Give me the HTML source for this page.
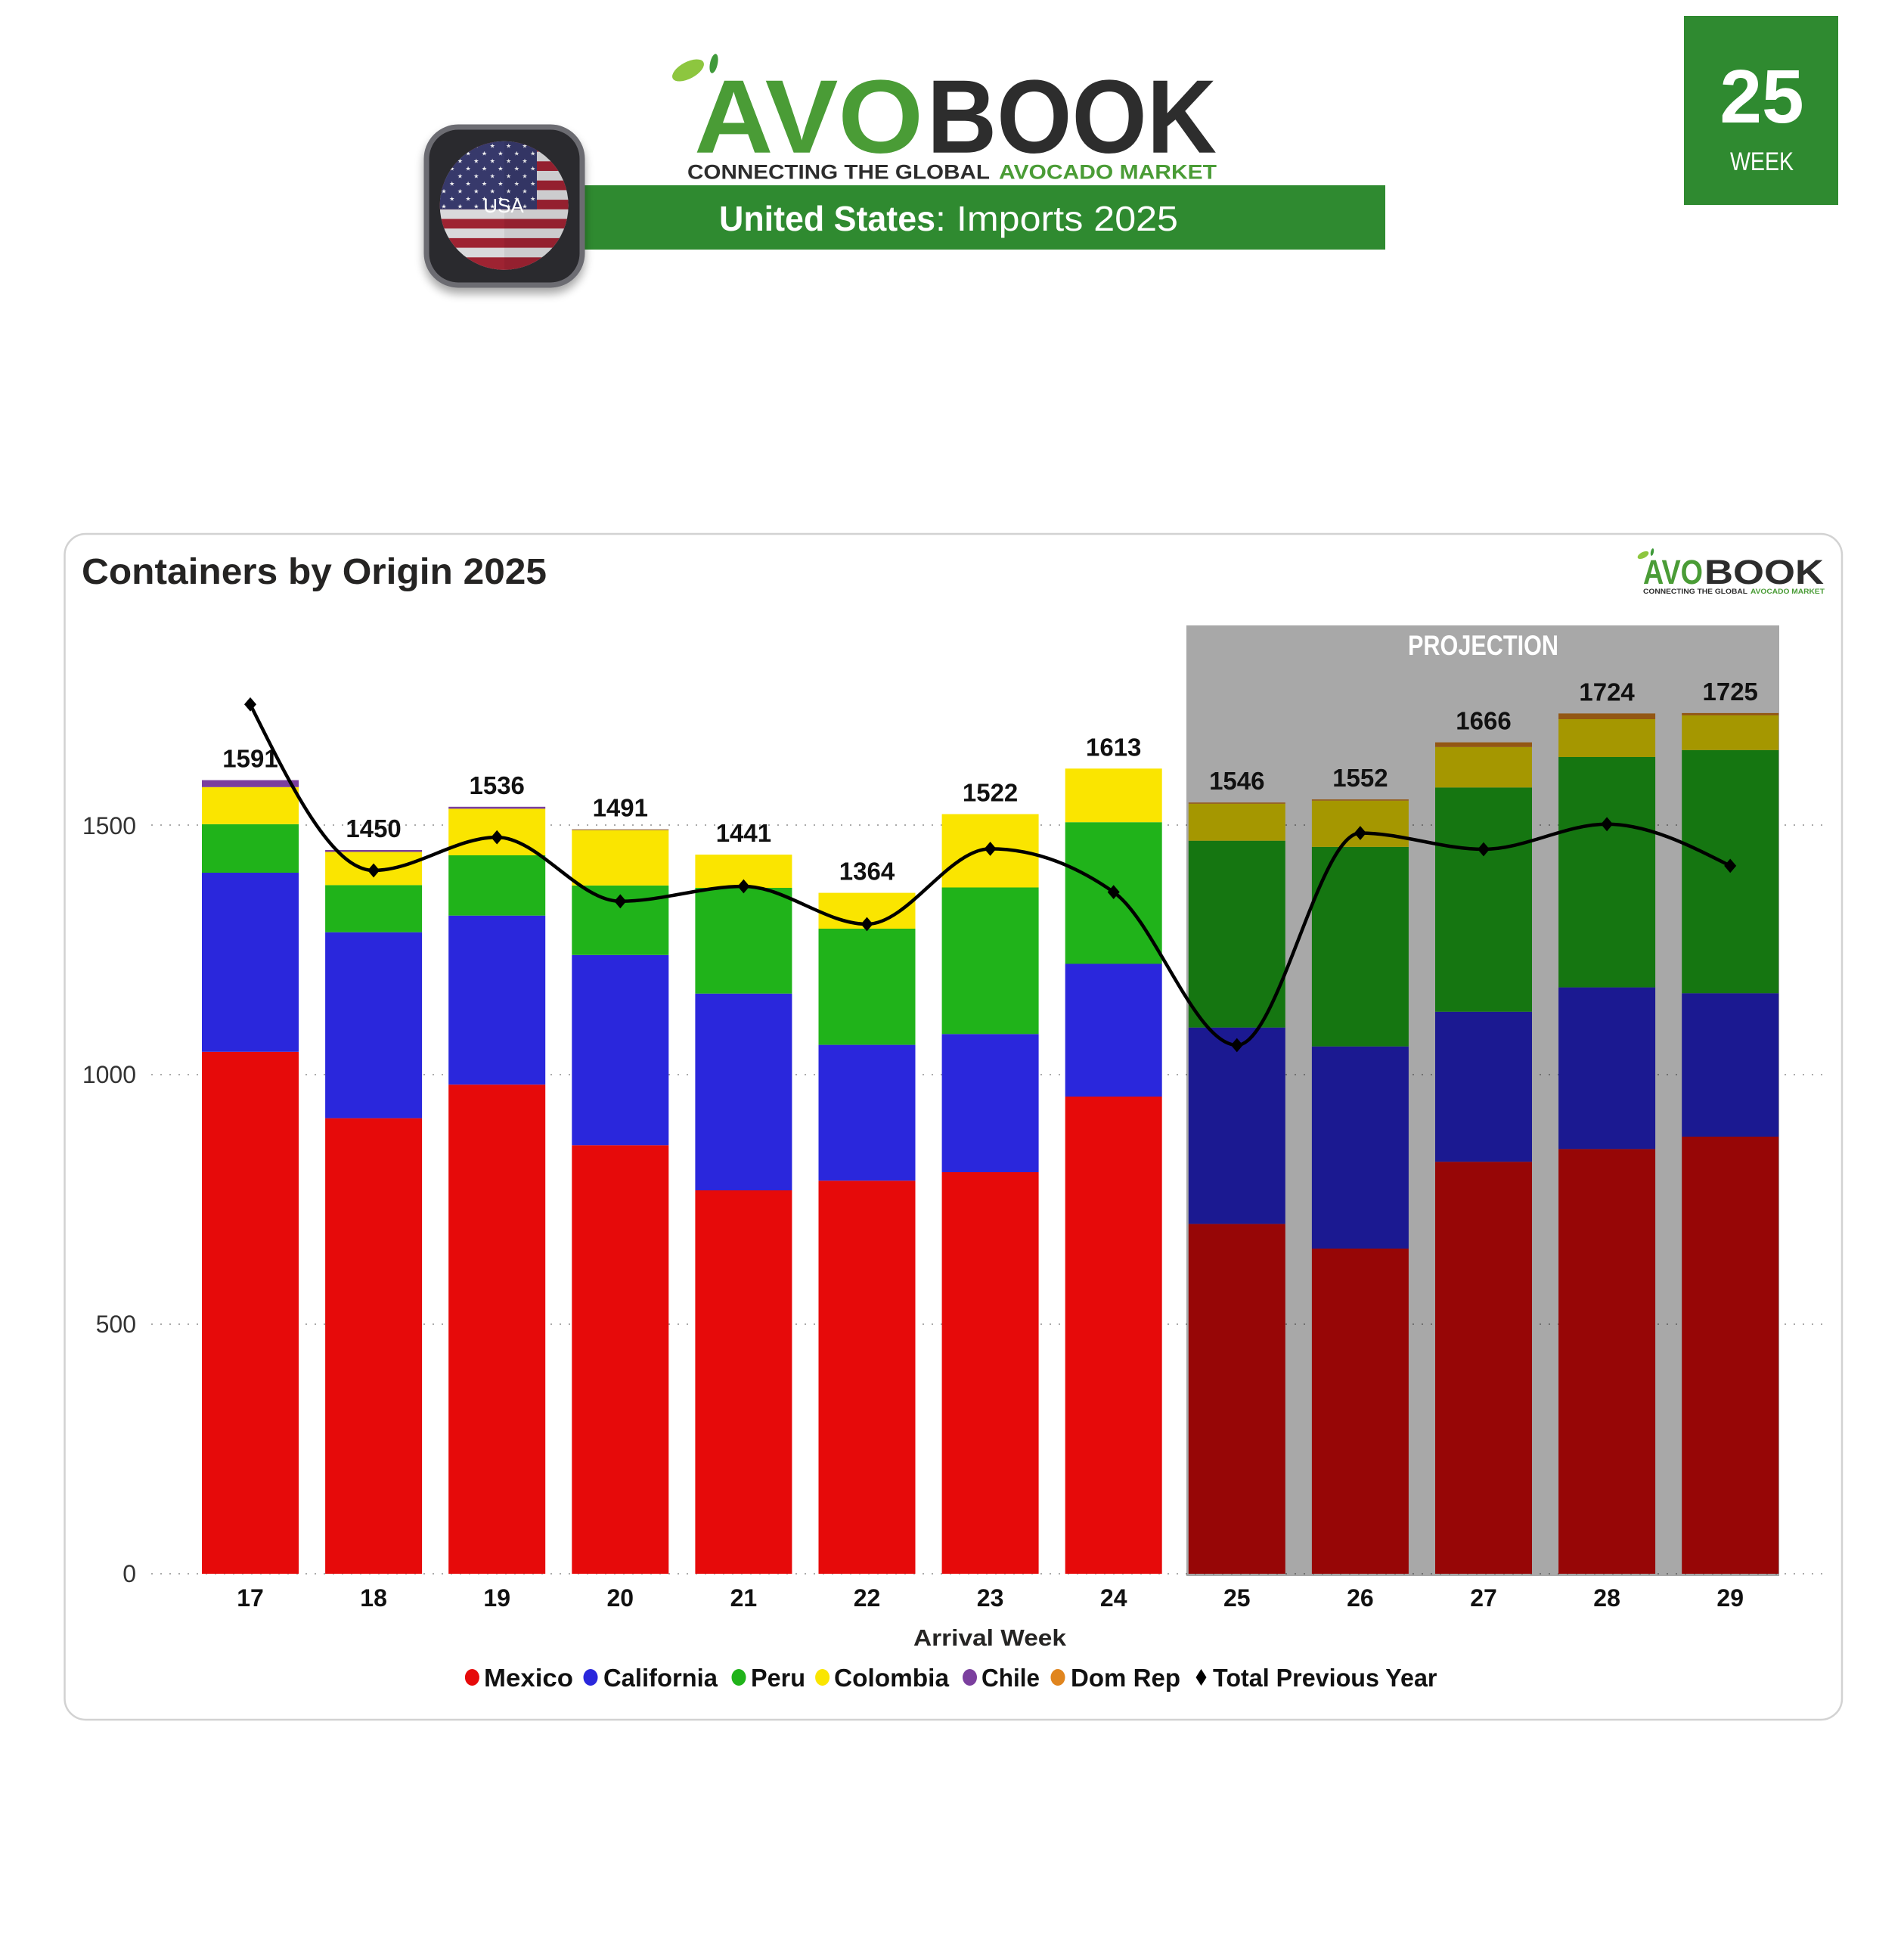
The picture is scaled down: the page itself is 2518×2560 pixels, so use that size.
<!DOCTYPE html>
<html><head><meta charset="utf-8"><style>
html,body{margin:0;padding:0;background:#fff;}
svg{display:block;}
text{font-family:"Liberation Sans",Arial,sans-serif;}
</style></head><body>
<svg width="2518" height="2560" viewBox="0 0 2518 2560" xmlns="http://www.w3.org/2000/svg">
<defs>
<clipPath id="flagclip"><circle cx="666.7" cy="271.7" r="85"/></clipPath>
<pattern id="stars" x="582" y="188" width="21.4" height="20" patternUnits="userSpaceOnUse">
<g fill="#f2f2f2">
<polygon transform="translate(5,5)" points="0,-3.3 0.76,-1.05 3.14,-1.02 1.24,0.4 1.94,2.67 0,1.3 -1.94,2.67 -1.24,0.4 -3.14,-1.02 -0.76,-1.05"/>
<polygon transform="translate(15.7,15)" points="0,-3.3 0.76,-1.05 3.14,-1.02 1.24,0.4 1.94,2.67 0,1.3 -1.94,2.67 -1.24,0.4 -3.14,-1.02 -0.76,-1.05"/>
</g>
</pattern>
<filter id="shadow" x="-30%" y="-30%" width="160%" height="170%">
<feGaussianBlur in="SourceAlpha" stdDeviation="6"/>
<feOffset dx="0" dy="8" result="b"/>
<feComponentTransfer><feFuncA type="linear" slope="0.35"/></feComponentTransfer>
<feMerge><feMergeNode/><feMergeNode in="SourceGraphic"/></feMerge>
</filter>
</defs>

<!-- ===== HEADER ===== -->
<rect x="2227" y="21" width="204" height="250" fill="#2F8A30"/>
<text x="2330" y="162" font-size="100" font-weight="bold" fill="#fff" text-anchor="middle">25</text>
<text x="2288" y="225" font-size="34" fill="#fff" textLength="84" lengthAdjust="spacingAndGlyphs">WEEK</text>

<rect x="740" y="245" width="1092" height="85" fill="#2F8A30"/>
<rect x="740" y="248" width="30" height="84" fill="#0b200b"/>
<text x="951" y="305" font-size="46" font-weight="bold" fill="#fff" textLength="286" lengthAdjust="spacingAndGlyphs">United States</text>
<text x="1237" y="305" font-size="46" fill="#fff" textLength="321" lengthAdjust="spacingAndGlyphs">: Imports 2025</text>

<g filter="url(#shadow)">
<rect x="564" y="168" width="206" height="209" rx="42" ry="42" fill="#2a2a2e" stroke="#6c6c72" stroke-width="7"/>
</g>
<g clip-path="url(#flagclip)">
<rect x="580" y="185" width="175" height="175" fill="#d9d9db"/>
<g fill="#9e2332">
<rect x="580" y="187.9" width="175" height="12.7"/>
<rect x="580" y="213.3" width="175" height="12.7"/>
<rect x="580" y="238.7" width="175" height="12.7"/>
<rect x="580" y="264.1" width="175" height="12.7"/>
<rect x="580" y="289.5" width="175" height="12.7"/>
<rect x="580" y="314.9" width="175" height="12.7"/>
<rect x="580" y="340.3" width="175" height="20"/>
</g>
<rect x="580" y="185" width="130" height="91.8" fill="#37396b"/>
<rect x="580" y="185" width="130" height="91.8" fill="url(#stars)"/>
<rect x="667" y="185" width="90" height="175" fill="#000" opacity="0.06"/>
</g>
<text x="666" y="281" font-size="26" fill="#fff" text-anchor="middle">USA</text>

<ellipse cx="910" cy="93" rx="23" ry="11" transform="rotate(-28 910 93)" fill="#8DC63F"/>
<ellipse cx="944" cy="84" rx="5" ry="13" transform="rotate(12 944 84)" fill="#3f9a3a"/>
<text x="918" y="201.7" font-size="138" font-weight="bold" fill="#4A9C36" textLength="303" lengthAdjust="spacingAndGlyphs">AVO</text>
<text x="1226" y="201.7" font-size="138" font-weight="bold" fill="#2D2D2D" textLength="383" lengthAdjust="spacingAndGlyphs">BOOK</text>
<text x="909" y="236.7" font-size="27" font-weight="bold" fill="#2D2D2D" textLength="400" lengthAdjust="spacingAndGlyphs">CONNECTING THE GLOBAL</text>
<text x="1321" y="236.7" font-size="27" font-weight="bold" fill="#4A9C36" textLength="288" lengthAdjust="spacingAndGlyphs">AVOCADO MARKET</text>

<!-- ===== CARD ===== -->
<rect x="85.5" y="706" width="2350.5" height="1568" rx="28" ry="28" fill="#fff" stroke="#d2d2d2" stroke-width="2.5"/>
<text x="108" y="772" font-size="48" font-weight="bold" fill="#252423" textLength="615" lengthAdjust="spacingAndGlyphs">Containers by Origin 2025</text>

<ellipse cx="2173" cy="734" rx="8" ry="4" transform="rotate(-28 2173 734)" fill="#8DC63F"/>
<ellipse cx="2185" cy="730" rx="2" ry="5" transform="rotate(12 2185 730)" fill="#3f9a3a"/>
<text x="2173" y="772" font-size="45" font-weight="bold" fill="#4A9C36" textLength="79" lengthAdjust="spacingAndGlyphs">AVO</text>
<text x="2254" y="772" font-size="45" font-weight="bold" fill="#2D2D2D" textLength="158" lengthAdjust="spacingAndGlyphs">BOOK</text>
<text x="2173" y="785" font-size="9.5" font-weight="bold" fill="#2D2D2D" textLength="138" lengthAdjust="spacingAndGlyphs">CONNECTING THE GLOBAL</text>
<text x="2315" y="785" font-size="9.5" font-weight="bold" fill="#4A9C36" textLength="98" lengthAdjust="spacingAndGlyphs">AVOCADO MARKET</text>

<g stroke="#aaaaaa" stroke-width="2" stroke-dasharray="2 10">
<line x1="200" y1="2081" x2="2418" y2="2081"/>
<line x1="200" y1="1751" x2="2418" y2="1751"/>
<line x1="200" y1="1421" x2="2418" y2="1421"/>
<line x1="200" y1="1091" x2="2418" y2="1091"/>
</g>
<g font-size="32" fill="#333" text-anchor="end">
<text x="180" y="2092">0</text>
<text x="180" y="1762">500</text>
<text x="180" y="1432">1000</text>
<text x="180" y="1103">1500</text>
</g>

<!-- 17 -->
<rect x="267" y="1390.8" width="128" height="690.2" fill="#E60A0A"/>
<rect x="267" y="1154" width="128" height="236.8" fill="#2A27DC"/>
<rect x="267" y="1089.8" width="128" height="64.2" fill="#20B31A"/>
<rect x="267" y="1040.8" width="128" height="49" fill="#FAE500"/>
<rect x="267" y="1031.6" width="128" height="9.2" fill="#7B3F9E"/>
<!-- 18 -->
<rect x="430.1" y="1478.6" width="128" height="602.4" fill="#E60A0A"/>
<rect x="430.1" y="1232.7" width="128" height="245.9" fill="#2A27DC"/>
<rect x="430.1" y="1170.4" width="128" height="62.3" fill="#20B31A"/>
<rect x="430.1" y="1126.5" width="128" height="43.9" fill="#FAE500"/>
<rect x="430.1" y="1124" width="128" height="2.5" fill="#7B3F9E"/>
<!-- 19 -->
<rect x="593.2" y="1434.2" width="128" height="646.8" fill="#E60A0A"/>
<rect x="593.2" y="1210.7" width="128" height="223.5" fill="#2A27DC"/>
<rect x="593.2" y="1131" width="128" height="79.7" fill="#20B31A"/>
<rect x="593.2" y="1069.4" width="128" height="61.6" fill="#FAE500"/>
<rect x="593.2" y="1066.8" width="128" height="2.6" fill="#7B3F9E"/>
<!-- 20 -->
<rect x="756.3" y="1514.3" width="128" height="566.7" fill="#E60A0A"/>
<rect x="756.3" y="1262.8" width="128" height="251.5" fill="#2A27DC"/>
<rect x="756.3" y="1170.9" width="128" height="91.9" fill="#20B31A"/>
<rect x="756.3" y="1097.5" width="128" height="73.4" fill="#FAE500"/>
<rect x="756.3" y="1096.4" width="128" height="1.5" fill="#b08a6a"/>
<!-- 21 -->
<rect x="919.4" y="1574" width="128" height="507" fill="#E60A0A"/>
<rect x="919.4" y="1313.8" width="128" height="260.2" fill="#2A27DC"/>
<rect x="919.4" y="1174" width="128" height="139.8" fill="#20B31A"/>
<rect x="919.4" y="1130.1" width="128" height="43.9" fill="#FAE500"/>
<!-- 22 -->
<rect x="1082.5" y="1561.2" width="128" height="519.8" fill="#E60A0A"/>
<rect x="1082.5" y="1381.6" width="128" height="179.6" fill="#2A27DC"/>
<rect x="1082.5" y="1228" width="128" height="153.6" fill="#20B31A"/>
<rect x="1082.5" y="1180.6" width="128" height="47.4" fill="#FAE500"/>
<!-- 23 -->
<rect x="1245.6" y="1550" width="128" height="531" fill="#E60A0A"/>
<rect x="1245.6" y="1367.3" width="128" height="182.7" fill="#2A27DC"/>
<rect x="1245.6" y="1173.5" width="128" height="193.8" fill="#20B31A"/>
<rect x="1245.6" y="1076.5" width="128" height="97" fill="#FAE500"/>
<!-- 24 -->
<rect x="1408.7" y="1450" width="128" height="631" fill="#E60A0A"/>
<rect x="1408.7" y="1274.5" width="128" height="175.5" fill="#2A27DC"/>
<rect x="1408.7" y="1087.2" width="128" height="187.3" fill="#20B31A"/>
<rect x="1408.7" y="1016.3" width="128" height="70.9" fill="#FAE500"/>
<!-- 25 -->
<rect x="1571.8" y="1618.4" width="128" height="462.6" fill="#E60A0A"/>
<rect x="1571.8" y="1358.7" width="128" height="259.7" fill="#2A27DC"/>
<rect x="1571.8" y="1111.7" width="128" height="247" fill="#20B31A"/>
<rect x="1571.8" y="1062.8" width="128" height="48.9" fill="#FAE500"/>
<rect x="1571.8" y="1061.2" width="128" height="1.6" fill="#E0851E"/>
<!-- 26 -->
<rect x="1734.9" y="1651" width="128" height="430" fill="#E60A0A"/>
<rect x="1734.9" y="1383.7" width="128" height="267.3" fill="#2A27DC"/>
<rect x="1734.9" y="1119.9" width="128" height="263.8" fill="#20B31A"/>
<rect x="1734.9" y="1058.7" width="128" height="61.2" fill="#FAE500"/>
<rect x="1734.9" y="1057.1" width="128" height="1.6" fill="#E0851E"/>
<!-- 27 -->
<rect x="1898" y="1536.2" width="128" height="544.8" fill="#E60A0A"/>
<rect x="1898" y="1337.8" width="128" height="198.4" fill="#2A27DC"/>
<rect x="1898" y="1041.3" width="128" height="296.5" fill="#20B31A"/>
<rect x="1898" y="987.8" width="128" height="53.5" fill="#FAE500"/>
<rect x="1898" y="981.6" width="128" height="6.2" fill="#E0851E"/>
<!-- 28 -->
<rect x="2061.1" y="1519.4" width="128" height="561.6" fill="#E60A0A"/>
<rect x="2061.1" y="1305.6" width="128" height="213.8" fill="#2A27DC"/>
<rect x="2061.1" y="1001" width="128" height="304.6" fill="#20B31A"/>
<rect x="2061.1" y="951" width="128" height="50" fill="#FAE500"/>
<rect x="2061.1" y="943.4" width="128" height="7.6" fill="#E0851E"/>
<!-- 29 -->
<rect x="2224.2" y="1503" width="128" height="578" fill="#E60A0A"/>
<rect x="2224.2" y="1313.3" width="128" height="189.7" fill="#2A27DC"/>
<rect x="2224.2" y="991.8" width="128" height="321.5" fill="#20B31A"/>
<rect x="2224.2" y="945.9" width="128" height="45.9" fill="#FAE500"/>
<rect x="2224.2" y="942.9" width="128" height="3" fill="#E0851E"/>

<rect x="1569" y="827" width="784" height="1257" fill="#000" opacity="0.34"/>
<text x="1862" y="866" font-size="37" font-weight="bold" fill="#fff" textLength="199" lengthAdjust="spacingAndGlyphs">PROJECTION</text>

<g font-size="33" font-weight="bold" fill="#111" text-anchor="middle">
<text x="331" y="1014.6">1591</text>
<text x="494.1" y="1107">1450</text>
<text x="657.2" y="1050">1536</text>
<text x="820.3" y="1079.4">1491</text>
<text x="983.4" y="1113">1441</text>
<text x="1146.5" y="1163.6">1364</text>
<text x="1309.6" y="1059.5">1522</text>
<text x="1472.7" y="999.3">1613</text>
<text x="1635.8" y="1044">1546</text>
<text x="1798.9" y="1040">1552</text>
<text x="1962" y="964.6">1666</text>
<text x="2125.1" y="926.4">1724</text>
<text x="2288.2" y="926">1725</text>
</g>

<path d="M331,931.4 C385.37,1041.2 439.73,1151 494.1,1151 C548.47,1151 602.83,1107.1 657.2,1107.1 C711.57,1107.1 765.93,1191.8 820.3,1191.8 C874.67,1191.8 929.03,1172 983.4,1172 C1037.77,1172 1092.13,1222 1146.5,1222 C1200.87,1222 1255.23,1122.4 1309.6,1122.4 C1363.97,1122.4 1418.33,1141.47 1472.7,1179.6 C1527.07,1217.73 1581.43,1382 1635.8,1382 C1690.17,1382 1744.53,1101.5 1798.9,1101.5 C1853.27,1101.5 1907.63,1123 1962,1123 C2016.37,1123 2070.73,1089.8 2125.1,1089.8 C2179.47,1089.8 2233.83,1117.35 2288.2,1144.9" fill="none" stroke="#000" stroke-width="4.5"/>
<g fill="#000">
<polygon points="331,922 339,931.4 331,940.8 323,931.4"/>
<polygon points="494.1,1141.6 502.1,1151 494.1,1160.4 486.1,1151"/>
<polygon points="657.2,1097.7 665.2,1107.1 657.2,1116.5 649.2,1107.1"/>
<polygon points="820.3,1182.4 828.3,1191.8 820.3,1201.2 812.3,1191.8"/>
<polygon points="983.4,1162.6 991.4,1172 983.4,1181.4 975.4,1172"/>
<polygon points="1146.5,1212.6 1154.5,1222 1146.5,1231.4 1138.5,1222"/>
<polygon points="1309.6,1113 1317.6,1122.4 1309.6,1131.8 1301.6,1122.4"/>
<polygon points="1472.7,1170.2 1480.7,1179.6 1472.7,1189 1464.7,1179.6"/>
<polygon points="1635.8,1372.6 1643.8,1382 1635.8,1391.4 1627.8,1382"/>
<polygon points="1798.9,1092.1 1806.9,1101.5 1798.9,1110.9 1790.9,1101.5"/>
<polygon points="1962,1113.6 1970,1123 1962,1132.4 1954,1123"/>
<polygon points="2125.1,1080.4 2133.1,1089.8 2125.1,1099.2 2117.1,1089.8"/>
<polygon points="2288.2,1135.5 2296.2,1144.9 2288.2,1154.3 2280.2,1144.9"/>
</g>

<g font-size="32" font-weight="bold" fill="#111" text-anchor="middle">
<text x="331" y="2124">17</text>
<text x="494.1" y="2124">18</text>
<text x="657.2" y="2124">19</text>
<text x="820.3" y="2124">20</text>
<text x="983.4" y="2124">21</text>
<text x="1146.5" y="2124">22</text>
<text x="1309.6" y="2124">23</text>
<text x="1472.7" y="2124">24</text>
<text x="1635.8" y="2124">25</text>
<text x="1798.9" y="2124">26</text>
<text x="1962" y="2124">27</text>
<text x="2125.1" y="2124">28</text>
<text x="2288.2" y="2124">29</text>
</g>
<text x="1208" y="2176" font-size="31" font-weight="bold" fill="#252423" textLength="202" lengthAdjust="spacingAndGlyphs">Arrival Week</text>

<g font-size="33" font-weight="bold" fill="#111">
<ellipse cx="624.4" cy="2218" rx="9.5" ry="11" fill="#E60A0A"/>
<text x="640" y="2230" textLength="118" lengthAdjust="spacingAndGlyphs">Mexico</text>
<ellipse cx="781" cy="2218" rx="9.5" ry="11" fill="#2A27DC"/>
<text x="798" y="2230" textLength="151" lengthAdjust="spacingAndGlyphs">California</text>
<ellipse cx="977" cy="2218" rx="9.5" ry="11" fill="#20B31A"/>
<text x="993" y="2230" textLength="72" lengthAdjust="spacingAndGlyphs">Peru</text>
<ellipse cx="1087.6" cy="2218" rx="9.5" ry="11" fill="#FAE500"/>
<text x="1103" y="2230" textLength="152" lengthAdjust="spacingAndGlyphs">Colombia</text>
<ellipse cx="1282.5" cy="2218" rx="9.5" ry="11" fill="#7B3F9E"/>
<text x="1298" y="2230" textLength="77" lengthAdjust="spacingAndGlyphs">Chile</text>
<ellipse cx="1399" cy="2218" rx="9.5" ry="11" fill="#E0851E"/>
<text x="1416" y="2230" textLength="145" lengthAdjust="spacingAndGlyphs">Dom Rep</text>
<polygon points="1588.5,2207 1595.5,2218 1588.5,2229 1581.5,2218" fill="#000"/>
<text x="1604" y="2230" textLength="296.5" lengthAdjust="spacingAndGlyphs">Total Previous Year</text>
</g>
</svg>
</body></html>
